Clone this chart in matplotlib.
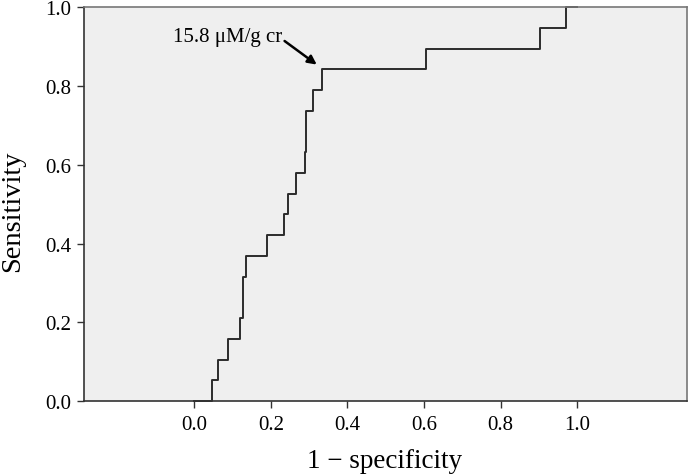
import matplotlib
matplotlib.use("Agg")
import matplotlib.pyplot as plt

# ROC corner points (1 - specificity, sensitivity)
fpr = [0.0, 0.046, 0.062, 0.087, 0.120, 0.127, 0.136, 0.191, 0.235, 0.245,
       0.267, 0.289, 0.291, 0.309, 0.334, 0.605, 0.902, 0.970, 1.0]
sens = [0, 1, 2, 3, 4, 6, 7, 8, 9, 10, 11, 12, 14, 15, 16, 17, 18, 19, 19]
n_pos = 19
tpr = [s / n_pos for s in sens]

cutoff_label = "15.8 μM/g cr"
cutoff_idx = 14

xticks = [0.0, 0.2, 0.4, 0.6, 0.8, 1.0]
yticks = [0.0, 0.2, 0.4, 0.6, 0.8, 1.0]

plt.rcParams["font.family"] = ["Liberation Serif", "DejaVu Serif"]

fig = plt.figure(figsize=(6.88, 4.77), dpi=100)
ax = fig.add_axes([0.122, 0.157, 0.876, 0.826])
ax.set_facecolor("#efefef")

ax.step(fpr, tpr, where="post", color="#2b2b2b", lw=1.4, clip_on=False)

# label of the chosen cut-off, with an arrow to its point
ax.text(0.086, 0.914, cutoff_label, fontsize=15, ha="center", va="baseline")
ax.annotate("", xy=(fpr[cutoff_idx] - 0.014, tpr[cutoff_idx] + 0.012),
            xytext=(0.236, 0.914),
            arrowprops=dict(arrowstyle="-|>", color="black", lw=1.8,
                            mutation_scale=13, shrinkA=0, shrinkB=0))

ax.set_xlim(-0.288, 1.286)
ax.set_ylim(0, 1.0)
ax.set_xticks(xticks)
ax.set_yticks(yticks)
ax.set_xticklabels([f"{t:.1f}" for t in xticks])
ax.set_yticklabels([f"{t:.1f}" for t in yticks])
ax.tick_params(direction="out", length=5, width=1, labelsize=15, color="#333333")
ax.tick_params(axis="x", pad=5)
ax.tick_params(axis="y", pad=4)

for s in ax.spines.values():
    s.set_color("#777777")
    s.set_linewidth(1.2)
ax.spines["left"].set_color("#333333")
ax.spines["bottom"].set_color("#333333")

ax.set_xlabel("1 \u2212 specificity", fontsize=19.5, va="center")
ax.set_ylabel("Sensitivity", fontsize=20.5, va="center")
ax.xaxis.set_label_coords(0.498, -0.152)
ax.yaxis.set_label_coords(-0.118, 0.485)

fig.savefig("out.png", dpi=100)
